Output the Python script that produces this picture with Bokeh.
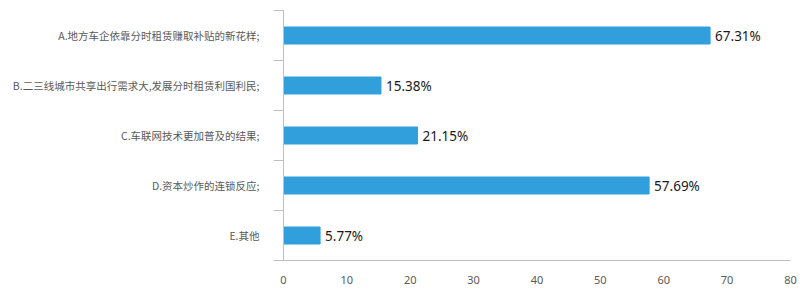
from bokeh.plotting import figure
from bokeh.models import ColumnDataSource, FixedTicker, Range1d
from bokeh.core.properties import value
from bokeh.embed import file_html
from bokeh.resources import INLINE

categories = [
    "A.地方车企依靠分时租赁赚取补贴的新花样;",
    "B.二三线城市共享出行需求大,发展分时租赁利国利民;",
    "C.车联网技术更加普及的结果;",
    "D.资本炒作的连锁反应;",
    "E.其他",
]
values = [67.31, 15.38, 21.15, 57.69, 5.77]
labels = ["67.31%", "15.38%", "21.15%", "57.69%", "5.77%"]
x_ticks = [0, 10, 20, 30, 40, 50, 60, 70, 80]

n = len(categories)
ypos = [n - i - 0.5 for i in range(n)]

src = ColumnDataSource(dict(y=ypos, v=values, lab=labels))

p = figure(width=800, height=300, output_backend="svg", toolbar_location=None,
           x_range=Range1d(0, 80), y_range=Range1d(0, n),
           min_border_left=283, min_border_right=10, min_border_top=10, min_border_bottom=40)
p.outline_line_color = None
p.xgrid.grid_line_color = None
p.ygrid.grid_line_color = None
p.background_fill_color = "white"
p.border_fill_color = "white"

p.hbar(y="y", right="v", left=0, height=0.34, source=src, color="#309fdb")
p.text(x="v", y="y", text="lab", source=src, x_offset=5, text_baseline="middle",
       text_font=value("Noto Sans"), text_font_size="13.5px", text_color="#1a1a1a")

axis_color = "#bfbfbf"
lab_color = "#595959"

xa = p.xaxis[0]
xa.ticker = FixedTicker(ticks=x_ticks)
xa.axis_line_color = axis_color
xa.major_tick_line_color = None
xa.minor_tick_line_color = None
xa.major_label_text_font = "Noto Sans"
xa.major_label_text_font_size = "11px"
xa.major_label_text_color = lab_color
xa.major_label_standoff = 9

ya = p.yaxis[0]
ya.ticker = FixedTicker(ticks=ypos, minor_ticks=list(range(n + 1)))
ya.major_label_overrides = {y: c for y, c in zip(ypos, categories)}
ya.axis_line_color = axis_color
ya.major_tick_line_color = None
ya.major_tick_out = 0
ya.minor_tick_line_color = axis_color
ya.minor_tick_out = 10
ya.minor_tick_in = 0
ya.major_label_standoff = 14
ya.major_label_text_font = "Noto Sans CJK SC"
ya.major_label_text_font_size = "10.5px"
ya.major_label_text_color = lab_color

open("out.html", "w").write(file_html(p, INLINE))
